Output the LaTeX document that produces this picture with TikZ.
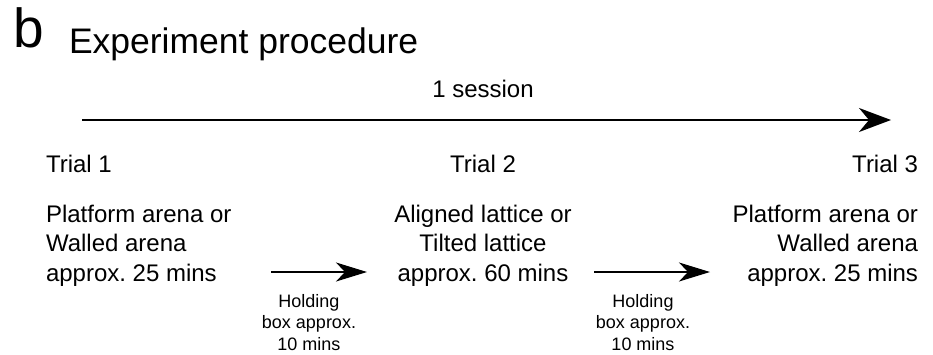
\documentclass[tikz,border=0pt]{standalone}
\usepackage{fontspec}
\setmainfont{Liberation Sans}
\usetikzlibrary{arrows.meta}
\frenchspacing
\begin{document}
\begin{tikzpicture}[x=1pt,y=-1pt,
  lbl/.style={inner sep=0pt,outer sep=0pt},
  big/.style={lbl,font=\fontsize{24}{29.5}\selectfont},
  small/.style={lbl,font=\fontsize{18}{21.5}\selectfont},
  conn/.style={line width=2pt,-{Stealth[length=32pt,width=24pt,inset=10pt]}},
  sconn/.style={line width=1.8pt,-{Stealth[length=31pt,width=19pt,inset=9pt]}}]
\useasboundingbox (0,0) rectangle (933,354);
\node[lbl,anchor=base west,font=\fontsize{55}{55}\selectfont] (b) at (13,47) {b};
\node[lbl,anchor=base west,font=\fontsize{35.5}{36}\selectfont] (title) at (69,53) {Experiment procedure};
\node[big,anchor=base] (session) at (483,97) {1 session};
\coordinate (s0) at (82,120);
\coordinate (s1) at (891,120);
\draw[conn] (s0) -- (s1);
\node[big,anchor=base west] (t1) at (46,172) {Trial 1};
\node[big,anchor=base] (t2) at (483,172) {Trial 2};
\node[big,anchor=base east] (t3) at (918,172) {Trial 3};
\node[big,anchor=base west] (a1) at (46,222) {\begin{tabular}[t]{@{}l@{}}Platform arena or\\Walled arena\\approx. 25 mins\end{tabular}};
\node[big,anchor=base] (a2) at (483,222) {\begin{tabular}[t]{@{}c@{}}Aligned lattice or\\Tilted lattice\\approx. 60 mins\end{tabular}};
\node[big,anchor=base east] (a3) at (918,222) {\begin{tabular}[t]{@{}r@{}}Platform arena or\\Walled arena\\approx. 25 mins\end{tabular}};
\coordinate (h1s) at (271,272);
\coordinate (h1e) at (367,272);
\coordinate (h2s) at (594,272);
\coordinate (h2e) at (710,272);
\draw[sconn] (h1s) -- (h1e);
\draw[sconn] (h2s) -- (h2e);
\node[small,anchor=base] (n1) at (309,307) {\begin{tabular}[t]{@{}c@{}}Holding\\box approx.\\10 mins\end{tabular}};
\node[small,anchor=base] (n2) at (643,307) {\begin{tabular}[t]{@{}c@{}}Holding\\box approx.\\10 mins\end{tabular}};
\end{tikzpicture}
\end{document}
